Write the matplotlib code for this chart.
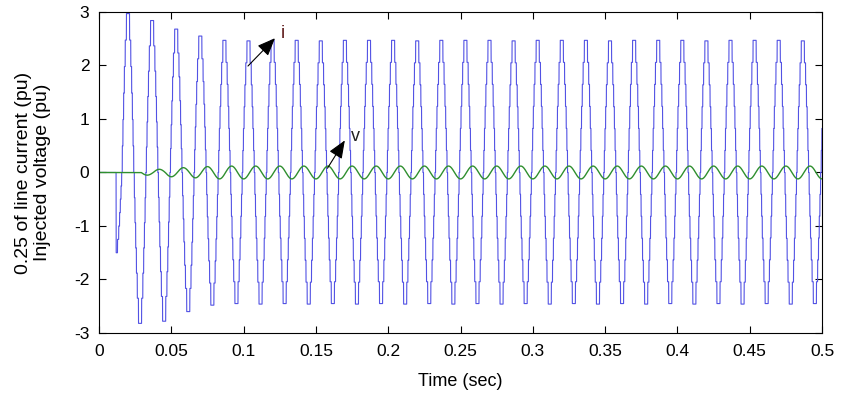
import numpy as np
import matplotlib
matplotlib.use("Agg")
import matplotlib.pyplot as plt

plt.rcParams['font.family'] = ['Liberation Sans', 'DejaVu Sans']
plt.rcParams['axes.unicode_minus'] = False

# --- data ---
f0 = 60.0                 # Hz, ~24 px per cycle
i_start = 0.0118          # current switches on here (s)
i_peak_t0 = 0.020         # first positive current peak (s)
# peak of each positive half cycle of the current (pu)
i_pos_peaks = [2.97, 2.84, 2.68, 2.55, 2.47, 2.46, 2.47, 2.47, 2.46, 2.47,
               2.47, 2.47, 2.46, 2.47, 2.47, 2.47, 2.46, 2.47, 2.47, 2.47,
               2.46, 2.47, 2.47, 2.47, 2.46, 2.47, 2.47, 2.47, 2.46, 2.47]
# magnitude of each negative half cycle (first one is the partial dip)
i_neg_peaks = [1.50, 2.82, 2.78, 2.60, 2.48, 2.45, 2.46, 2.45, 2.46, 2.45,
               2.46, 2.45, 2.46, 2.45, 2.46, 2.45, 2.46, 2.45, 2.46, 2.45,
               2.46, 2.45, 2.46, 2.45, 2.46, 2.45, 2.46, 2.45, 2.46, 2.45]
n_levels = 6              # staircase levels per half wave

v_peak_t0 = 0.025         # voltage lags the current
v_pos_peaks = [0.00, 0.06, 0.09, 0.11, 0.12, 0.12, 0.12, 0.12, 0.12, 0.12,
               0.12, 0.12, 0.12, 0.12, 0.12, 0.12, 0.12, 0.12, 0.12, 0.12,
               0.12, 0.12, 0.12, 0.12, 0.12, 0.12, 0.12, 0.12, 0.12, 0.12]
v_neg_peaks = [0.05, 0.08, 0.10, 0.12, 0.12, 0.12, 0.12, 0.12, 0.12, 0.12,
               0.12, 0.12, 0.12, 0.12, 0.12, 0.12, 0.12, 0.12, 0.12, 0.12,
               0.12, 0.12, 0.12, 0.12, 0.12, 0.12, 0.12, 0.12, 0.12, 0.12]

x_ticks = [0, 0.05, 0.1, 0.15, 0.2, 0.25, 0.3, 0.35, 0.4, 0.45, 0.5]
x_tick_labels = ['0', '0.05', '0.1', '0.15', '0.2', '0.25', '0.3', '0.35', '0.4', '0.45', '0.5']
y_ticks = [-3, -2, -1, 0, 1, 2, 3]


def half_cycle_wave(t, t_peak, pos, neg, neg_offset, stair=None):
    theta = 2 * np.pi * f0 * (t - t_peak)
    c = np.cos(theta)
    k = np.round(theta / (2 * np.pi)).astype(int)               # positive half index
    m = np.floor(theta / (2 * np.pi)).astype(int) + neg_offset  # negative half index
    pos = np.asarray(pos)
    neg = np.asarray(neg)
    amp_p = np.where((k >= 0) & (k < len(pos)), pos[np.clip(k, 0, len(pos) - 1)], 0.0)
    amp_n = np.where((m >= 0) & (m < len(neg)), neg[np.clip(m, 0, len(neg) - 1)], 0.0)
    if stair is not None:
        c = np.round(c * stair) / stair
    return np.where(c >= 0, amp_p * c, amp_n * c)


t = np.linspace(0, 0.5, 40001)
i_wave = half_cycle_wave(t, i_peak_t0, i_pos_peaks, i_neg_peaks, 1, stair=n_levels)
i_wave[t < i_start] = 0.0
v_wave = half_cycle_wave(t, v_peak_t0, v_pos_peaks, v_neg_peaks, 0)

fig = plt.figure(figsize=(8.42, 3.93), dpi=100)
ax = fig.add_axes([0.1176, 0.1527, 0.8587, 0.8168])

ax.plot(t, i_wave, color='#5252e4', lw=0.8)
ax.plot(t, v_wave, color='#2f8f2f', lw=1.0)

ax.set_xlim(0, 0.5)
ax.set_ylim(-3, 3)
ax.set_xticks(x_ticks)
ax.set_xticklabels(x_tick_labels)
ax.set_yticks(y_ticks)
ax.tick_params(direction='in', top=True, right=True, labelsize=12.5, length=5)
ax.tick_params(axis='x', pad=8)
ax.tick_params(axis='y', pad=7)
for s in ax.spines.values():
    s.set_linewidth(0.8)

ax.set_xlabel('Time (sec)', fontsize=13)
ax.xaxis.set_label_coords(0.5, -0.125)
ax.set_ylabel('0.25 of line current (pu)\nInjected voltage (pu)', fontsize=14,
              linespacing=1.15)
ax.yaxis.set_label_coords(-0.066, 0.5)

arrow = dict(arrowstyle='-|>,head_length=1.1,head_width=0.45', color='k', lw=0.8,
             shrinkA=0, shrinkB=0)
ax.annotate('', xy=(0.1217, 2.51), xytext=(0.103, 1.99), arrowprops=arrow)
ax.text(0.1255, 2.6, 'i', color='#5a1414', fontsize=13, ha='left', va='center')
ax.annotate('', xy=(0.170, 0.60), xytext=(0.158, 0.08), arrowprops=arrow)
ax.text(0.1745, 0.68, 'v', color='#202020', fontsize=13, ha='left', va='center')

fig.savefig('out.png', dpi=100)
